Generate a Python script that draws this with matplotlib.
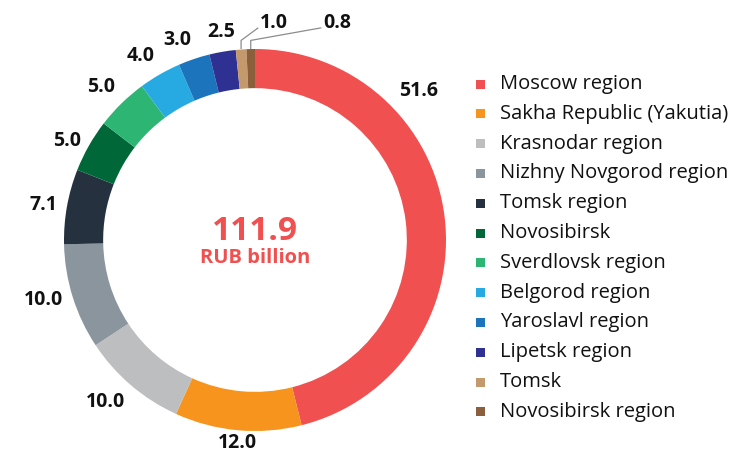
import matplotlib
matplotlib.use('Agg')
import matplotlib.pyplot as plt
from matplotlib.patches import Rectangle
import numpy as np

plt.rcParams['font.family'] = ['Open Sans', 'DejaVu Sans']

# data
regions = ['Moscow region', 'Sakha Republic (Yakutia)', 'Krasnodar region',
           'Nizhny Novgorod region', 'Tomsk region', 'Novosibirsk',
           'Sverdlovsk region', 'Belgorod region', 'Yaroslavl region',
           'Lipetsk region', 'Tomsk', 'Novosibirsk region']
values = [51.6, 12.0, 10.0, 10.0, 7.1, 5.0, 5.0, 4.0, 3.0, 2.5, 1.0, 0.8]
colors = ['#F05050', '#F7941D', '#BCBEC0', '#8A959E', '#25313F', '#006838',
          '#2DB673', '#27AAE1', '#1C75BC', '#2E3192', '#C49A6C', '#8B5E3C']
total_label = '111.9'
unit_label = 'RUB billion'

W, H = 736, 458
fig = plt.figure(figsize=(W / 100, H / 100), dpi=100)

# donut axes: centre at (255, 240) px, radius 191 px
cx, cy, rpx, lim = 255, 240, 191, 1.25
side = 2 * lim * rpx
ax = fig.add_axes([(cx - side / 2) / W, (H - cy - side / 2) / H, side / W, side / H])

wedges, _ = ax.pie(values, colors=colors, startangle=90, counterclock=False,
                   radius=1.0, wedgeprops=dict(width=0.205, linewidth=0))
ax.set_xlim(-lim, lim)
ax.set_ylim(-lim, lim)
ax.set_aspect('equal')
ax.axis('off')

# value labels
label_angle_override = {0: 44.0}   # Moscow label sits higher up
small_label_dx = [0.10, 0.38]      # leader-line labels for the tiny slices
small_i = 0
for i, (w, v) in enumerate(zip(wedges, values)):
    ang = label_angle_override.get(i, (w.theta1 + w.theta2) / 2)
    a = np.deg2rad(ang)
    c, s = np.cos(a), np.sin(a)
    txt = '{:.1f}'.format(v)
    if v < 2:
        x0 = np.cos(np.deg2rad((w.theta1 + w.theta2) / 2))
        tx = x0 + small_label_dx[small_i]
        small_i += 1
        ty = 1.136
        ax.plot([x0, x0, tx - 0.01], [1.0, 1.045, ty - 0.025],
                color='#8c8c8c', lw=0.9, solid_capstyle='butt')
        ax.text(tx, ty, txt, ha='left', va='center', fontsize=14,
                fontweight='bold', color='#111111')
        continue
    r = 1.05
    ha = 'right' if c < -0.3 else ('left' if c > 0.3 else 'center')
    va = 'top' if s < -0.3 else ('bottom' if s > 0.55 else 'center')
    if ha == 'center' and va == 'top':
        r = 1.015
    ax.text(r * c, r * s, txt, ha=ha, va=va, fontsize=14, fontweight='bold',
            color='#111111')

# centre text
ax.text(0, 0.047, total_label, ha='center', va='center', fontsize=24,
        fontweight='bold', color='#F05050')
ax.text(0, -0.094, unit_label, ha='center', va='center', fontsize=14.5,
        fontweight='bold', color='#F05050')

# legend
for i, (name, col) in enumerate(zip(regions, colors)):
    ypx = 84 + 29.8 * i
    fig.add_artist(Rectangle((476 / W, 1 - (ypx + 4.5) / H), 9 / W, 9 / H,
                             transform=fig.transFigure, color=col, lw=0))
    fig.text(500 / W, 1 - ypx / H, name, ha='left', va='center',
             fontsize=14.5, color='#111111')

fig.savefig('out.png', dpi=100)
